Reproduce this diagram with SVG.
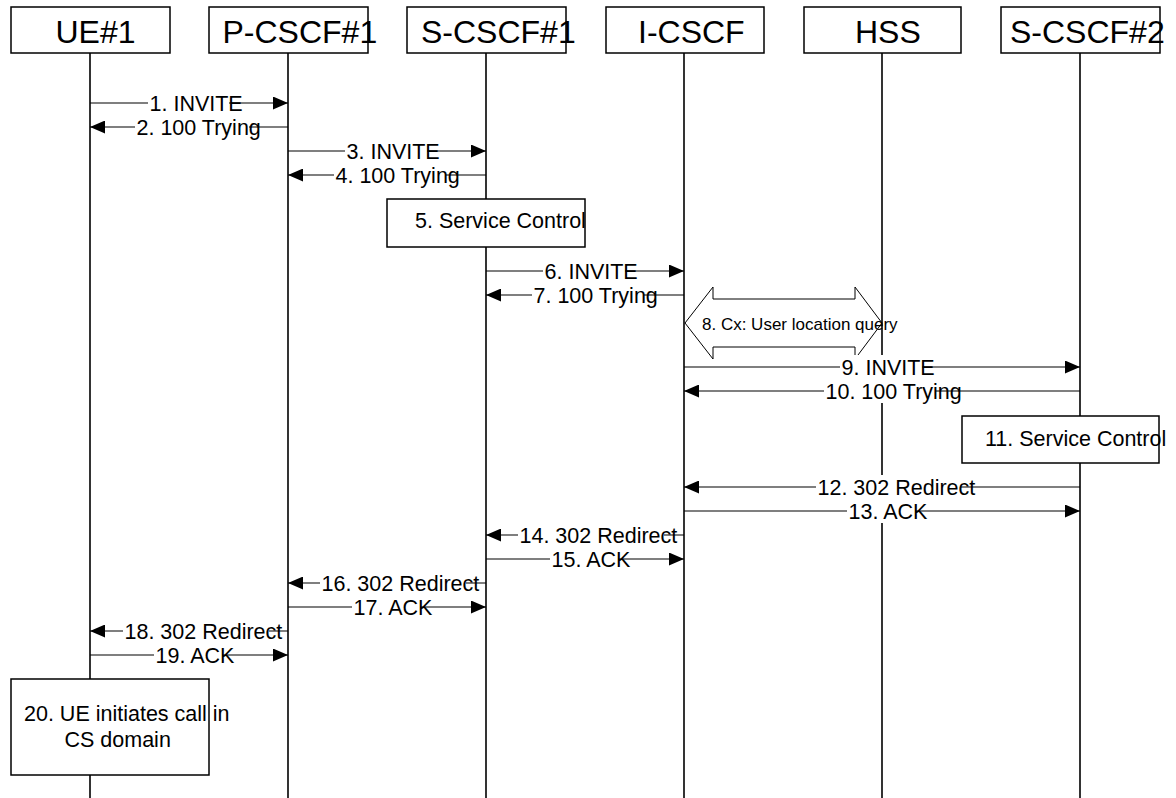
<svg xmlns="http://www.w3.org/2000/svg" width="1176" height="798" viewBox="0 0 1176 798">
<style>
.bx{fill:#fff;stroke:#000;stroke-width:1.5}
.ll{stroke:#000;stroke-width:1.6;fill:none}
.hd{font-family:"Liberation Sans",Arial,sans-serif;font-size:32px;fill:#000}
.tx{font-family:"Liberation Sans",Arial,sans-serif;font-size:21.5px;fill:#000}
.ms{stroke:#000;stroke-width:1.2;fill:none;marker-end:url(#ah)}
.bg{fill:#fff;stroke:none}
.sm{font-family:"Liberation Sans",Arial,sans-serif;font-size:17px;fill:#000}
</style>
<defs>
<marker id="ah" markerUnits="userSpaceOnUse" markerWidth="16" markerHeight="13" refX="15" refY="6.5" orient="auto"><path d="M0,0 L15,6.5 L0,13 z" fill="#000"/></marker>
</defs>
<rect width="1176" height="798" fill="#fff"/>
<g id="ue1"><line class="ll" x1="90" y1="53" x2="90" y2="798"/><rect class="bx" x="11" y="7" width="159" height="46"/><text class="hd" x="55.5" y="43">UE#1</text></g>
<g id="pcscf1"><line class="ll" x1="288" y1="53" x2="288" y2="798"/><rect class="bx" x="209" y="7" width="159" height="46"/><text class="hd" x="222.5" y="43">P-CSCF#1</text></g>
<g id="scscf1"><line class="ll" x1="486" y1="53" x2="486" y2="798"/><rect class="bx" x="407" y="7" width="159" height="46"/><text class="hd" x="421" y="43">S-CSCF#1</text></g>
<g id="icscf"><line class="ll" x1="684" y1="53" x2="684" y2="798"/><rect class="bx" x="606" y="7" width="158" height="46"/><text class="hd" x="638" y="43">I-CSCF</text></g>
<g id="hss"><line class="ll" x1="882" y1="53" x2="882" y2="798"/><rect class="bx" x="804" y="7" width="157" height="46"/><text class="hd" x="855" y="43">HSS</text></g>
<g id="scscf2"><line class="ll" x1="1080" y1="53" x2="1080" y2="798"/><rect class="bx" x="1001" y="7" width="159" height="46"/><text class="hd" x="1010" y="43">S-CSCF#2</text></g>
<g id="step5"><rect class="bx" x="387" y="199" width="198" height="48"/><text class="tx" x="415" y="228">5. Service Control</text></g>
<g id="step11"><rect class="bx" x="962" y="416" width="197" height="47"/><text class="tx" x="985" y="446">11. Service Control</text></g>
<g id="step20"><rect class="bx" x="11" y="679" width="198" height="96"/><text class="tx" x="24" y="721">20. UE initiates call in</text><text class="tx" x="64.5" y="747">CS domain</text></g>
<g id="connectors">
<g><line class="ms" x1="90" y1="103" x2="288" y2="103"/><rect class="bg" x="148" y="91" width="81" height="24"/><text class="tx" x="149.5" y="110.5">1. INVITE</text></g>
<g><line class="ms" x1="288" y1="127" x2="90" y2="127"/><rect class="bg" x="135" y="115" width="114" height="24"/><text class="tx" x="136.5" y="134.5">2. 100 Trying</text></g>
<g><line class="ms" x1="288" y1="151" x2="486" y2="151"/><rect class="bg" x="345" y="139" width="82" height="24"/><text class="tx" x="346.5" y="158.5">3. INVITE</text></g>
<g><line class="ms" x1="486" y1="175" x2="288" y2="175"/><rect class="bg" x="334" y="163" width="112" height="24"/><text class="tx" x="335.5" y="182.5">4. 100 Trying</text></g>
<g><line class="ms" x1="486" y1="271" x2="684" y2="271"/><rect class="bg" x="543" y="259" width="82" height="24"/><text class="tx" x="544.5" y="278.5">6. INVITE</text></g>
<g><line class="ms" x1="684" y1="295" x2="486" y2="295"/><rect class="bg" x="532" y="283" width="112" height="24"/><text class="tx" x="533.5" y="302.5">7. 100 Trying</text></g>
<g><polygon points="685,323 713,287 713,299 855,299 855,287 882,323 855,359 855,347 713,347 713,359" fill="none" stroke="#000" stroke-width="1"/><text class="sm" x="702" y="330">8. Cx: User location query</text></g>
<g><line class="ms" x1="684" y1="367" x2="1080" y2="367"/><rect class="bg" x="840" y="355" width="82" height="24"/><text class="tx" x="841.5" y="374.5">9. INVITE</text></g>
<g><line class="ms" x1="1080" y1="391" x2="684" y2="391"/><rect class="bg" x="824" y="379" width="112" height="24"/><text class="tx" x="825.5" y="398.5">10. 100 Trying</text></g>
<g><line class="ms" x1="1080" y1="487" x2="684" y2="487"/><rect class="bg" x="816" y="475" width="144" height="24"/><text class="tx" x="817.5" y="494.5">12. 302 Redirect</text></g>
<g><line class="ms" x1="684" y1="511" x2="1080" y2="511"/><rect class="bg" x="847" y="499" width="68" height="24"/><text class="tx" x="848.5" y="518.5">13. ACK</text></g>
<g><line class="ms" x1="684" y1="535" x2="486" y2="535"/><rect class="bg" x="518" y="523" width="146" height="24"/><text class="tx" x="519.5" y="542.5">14. 302 Redirect</text></g>
<g><line class="ms" x1="486" y1="559" x2="684" y2="559"/><rect class="bg" x="550" y="547" width="68" height="24"/><text class="tx" x="551.5" y="566.5">15. ACK</text></g>
<g><line class="ms" x1="486" y1="583" x2="288" y2="583"/><rect class="bg" x="320" y="571" width="146" height="24"/><text class="tx" x="321.5" y="590.5">16. 302 Redirect</text></g>
<g><line class="ms" x1="288" y1="607" x2="486" y2="607"/><rect class="bg" x="352" y="595" width="68" height="24"/><text class="tx" x="353.5" y="614.5">17. ACK</text></g>
<g><line class="ms" x1="288" y1="631" x2="90" y2="631"/><rect class="bg" x="123" y="619" width="146" height="24"/><text class="tx" x="124.5" y="638.5">18. 302 Redirect</text></g>
<g><line class="ms" x1="90" y1="655" x2="288" y2="655"/><rect class="bg" x="154" y="643" width="68" height="24"/><text class="tx" x="155.5" y="662.5">19. ACK</text></g>
</g>
</svg>
